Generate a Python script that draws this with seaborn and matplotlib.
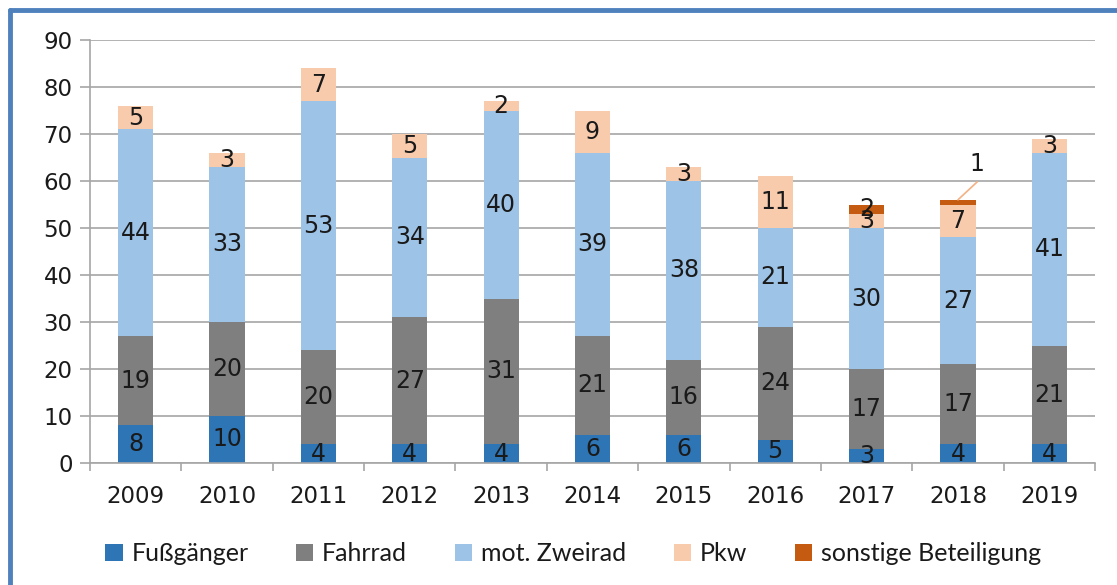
import numpy as np
import pandas as pd
import matplotlib
matplotlib.use("Agg")
import matplotlib.pyplot as plt
from matplotlib.lines import Line2D
from matplotlib.patches import Patch
import seaborn as sns

years = ["2009", "2010", "2011", "2012", "2013", "2014", "2015", "2016", "2017", "2018", "2019"]
fussgaenger = [8, 10, 4, 4, 4, 6, 6, 5, 3, 4, 4]
fahrrad = [19, 20, 20, 27, 31, 21, 16, 24, 17, 17, 21]
zweirad = [44, 33, 53, 34, 40, 39, 38, 21, 30, 27, 41]
pkw = [5, 3, 7, 5, 2, 9, 3, 11, 3, 7, 3]
sonstige = [0, 0, 0, 0, 0, 0, 0, 0, 2, 1, 0]

series_names = ["Fußgänger", "Fahrrad", "mot. Zweirad", "Pkw", "sonstige Beteiligung"]
series_vals = [fussgaenger, fahrrad, zweirad, pkw, sonstige]
colors = ["#2E75B6", "#7F7F7F", "#9DC3E6", "#F8CBAD", "#C55A11"]
y_ticks = [0, 10, 20, 30, 40, 50, 60, 70, 80, 90]

sns.set_theme(style="white")
plt.rcParams["font.family"] = ["DejaVu Sans"]

fig = plt.figure(figsize=(11.17, 5.85), dpi=100)
ax = fig.add_axes([90 / 1117, 1 - 463 / 585, (1095 - 90) / 1117, (463 - 40) / 585])

vals = np.array(series_vals, dtype=float)
cum = np.cumsum(vals, axis=0)
df_base = pd.DataFrame({"year": years})

# draw cumulative bars from top to bottom so that each segment shows
for i in range(len(series_names) - 1, -1, -1):
    d = df_base.copy()
    d["v"] = cum[i]
    sns.barplot(data=d, x="year", y="v", color=colors[i], width=0.385,
                saturation=1, ax=ax, zorder=2, linewidth=0)

# labels inside segments
for i in range(len(series_names)):
    for j in range(len(years)):
        v = vals[i, j]
        if v <= 0:
            continue
        if i == 4 and years[j] == "2018":
            continue
        mid = cum[i, j] - v / 2
        ax.text(j, mid, f"{int(v)}", ha="center", va="center", fontsize=17,
                color="#1a1a1a", zorder=4)

# external label for 2018 sonstige
j18 = years.index("2018")
top18 = cum[4, j18]
ax.plot([j18, j18 + 0.21], [top18, top18 + 3.8], color="#F4B183", lw=1.2, zorder=4)
ax.text(j18 + 0.21, top18 + 7.7, f"{int(sonstige[j18])}", ha="center", va="center",
        fontsize=17, color="#1a1a1a", zorder=4)

ax.set_xlim(-0.5, len(years) - 0.5)
ax.set_ylim(0, 90)
ax.set_yticks(y_ticks)
ax.set_yticklabels([str(t) for t in y_ticks])
ax.yaxis.grid(True, color="#A6A6A6", lw=1.2, zorder=0)
ax.set_axisbelow(True)
ax.set_xlabel("")
ax.set_ylabel("")

for s in ["top", "right"]:
    ax.spines[s].set_visible(False)
for s in ["left", "bottom"]:
    ax.spines[s].set_color("#A6A6A6")
    ax.spines[s].set_linewidth(1.2)

ax.tick_params(axis="y", which="major", length=7.5, width=1.2, color="#A6A6A6",
               labelsize=16.5, pad=5, labelcolor="#1a1a1a", left=True)
ax.set_xticks(np.arange(-0.5, len(years), 1.0), minor=True)
ax.tick_params(axis="x", which="minor", length=6, width=1.2, color="#A6A6A6", bottom=True)
ax.tick_params(axis="x", which="major", length=0, labelsize=16.5, pad=16, labelcolor="#1a1a1a")

handles = [Patch(facecolor=c, edgecolor="none") for c in colors]
leg = fig.legend(handles, series_names, loc="lower center", bbox_to_anchor=(0.513, -0.005),
                 ncol=5, frameon=False, handlelength=0.7, handleheight=0.7,
                 handletextpad=0.35, columnspacing=1.9,
                 prop={"family": "Lato", "size": 18})
for t in leg.get_texts():
    t.set_color("#1a1a1a")

# blue frame (left and top edges visible)
fig.add_artist(Line2D([10 / 1117, 10 / 1117], [0, 1 - 10 / 585], transform=fig.transFigure,
                      color="#4F81BD", lw=3.5))
fig.add_artist(Line2D([10 / 1117, 1], [1 - 10 / 585, 1 - 10 / 585], transform=fig.transFigure,
                      color="#4F81BD", lw=3.5))

fig.savefig("out.png", dpi=100)
